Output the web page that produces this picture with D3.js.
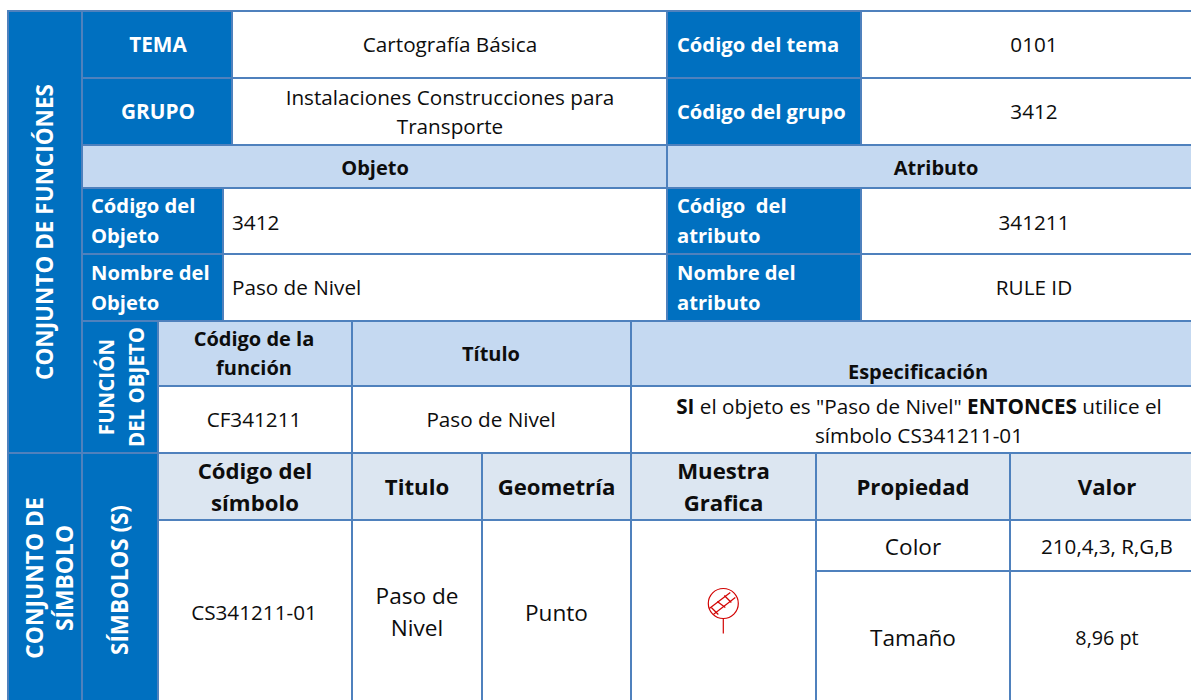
<!DOCTYPE html>
<html><head><meta charset="utf-8">
<script src="https://cdn.jsdelivr.net/npm/d3@7"></script>
<style>html,body{margin:0;padding:0;background:#fff}svg{display:block}text{font-family:"Open Sans","Noto Sans",sans-serif}</style>
</head><body><svg id="c" width="1191" height="700"></svg>
<script>
// ---- content ----
const headerLabels = ["TEMA","GRUPO","Código del tema","Código del grupo"];
const headerValues = ["Cartografía Básica",["Instalaciones Construcciones para","Transporte"],"0101","3412"];
const sectionLabels = ["Objeto","Atributo"];
const objectLabels = [["Código del","Objeto"],["Nombre del","Objeto"],["Código  del","atributo"],["Nombre del","atributo"]];
const objectValues = ["3412","Paso de Nivel","341211","RULE ID"];
const functionHeads = [["Código de la","función"],"Título","Especificación"];
const functionValues = ["CF341211","Paso de Nivel"];
const symbolHeads = [["Código del","símbolo"],"Titulo","Geometría",["Muestra","Grafica"],"Propiedad","Valor"];
const symbolValues = ["CS341211-01",["Paso de","Nivel"],"Punto","Color","210,4,3, R,G,B","Tamaño","8,96 pt"];
const sideLabels = [["CONJUNTO DE FUNCIÓNES"],["FUNCIÓN","DEL OBJETO"],["CONJUNTO DE","SÍMBOLO"],["SÍMBOLOS (S)"]];

// ---- layout scales ----
const xKeys = ["L","A","F","O","T","C","G","S","K","P","V","R","E"];
const xEdge = [8,82,158,223,232,352,482,631,667,816,861,1010,1193];
const yKeys = ["t","r1","r2","r3","r4","r5","r6","r7","r8","r9","b"];
const yEdge = [11,78,145,188,254,321,386,453,520,571,702];
const X = d3.scaleOrdinal(xKeys,xEdge);
const Y = d3.scaleOrdinal(yKeys,yEdge);
const BLUE="#0070c0",LIGHT="#c5d9f1",PALE="#dce6f1",LINE="#4f81bd",INK="#0d0d0d";
const svg=d3.select("#c");
const cells=[];
function cell(x0,x1,y0,y1,fill,txt,o={}){cells.push({x0,x1,y0,y1,fill,txt,...o});}
const W={color:"#fff",bold:true,size:20.2};
const B={size:20.7};
const H={bold:true,size:22.2,lh:32,dy:1};
const S={size:22.6};
// side
cell("L","A","t","r7",BLUE,sideLabels[0],{...W,rot:true,size:22.5,cx:45,cy:232});
cell("L","A","r7","b",BLUE,sideLabels[2],{...W,rot:true,size:22.8,cx:50,cy:578,lh:30});
cell("A","F","r5","r7",BLUE,sideLabels[1],{...W,rot:true,size:20.5,cx:122,cy:387,lh:30});
cell("A","F","r7","b",BLUE,sideLabels[3],{...W,rot:true,size:22.4,cx:120,cy:580});
// header rows
cell("A","T","t","r1",BLUE,headerLabels[0],{...W,size:20.8,cx:158});
cell("A","T","r1","r2",BLUE,headerLabels[1],{...W,size:20.8,cx:158});
cell("T","K","t","r1","#fff",headerValues[0],{...B,cx:450});
cell("T","K","r1","r2","#fff",headerValues[1],{...B,lh:29,cx:450,dy:0.5});
cell("K","V","t","r1",BLUE,headerLabels[2],{...W,align:"start",pad:10});
cell("K","V","r1","r2",BLUE,headerLabels[3],{...W,align:"start",pad:10});
cell("V","E","t","r1","#fff",headerValues[2],{...B,cx:1034});
cell("V","E","r1","r2","#fff",headerValues[3],{...B,cx:1034});
cell("A","K","r2","r3",LIGHT,sectionLabels[0],{bold:true,size:20,cx:375,dy:1});
cell("K","E","r2","r3",LIGHT,sectionLabels[1],{bold:true,size:20,cx:936,dy:1});
// object rows
cell("A","O","r3","r4",BLUE,objectLabels[0],{...W,align:"start",pad:9,lh:30});
cell("A","O","r4","r5",BLUE,objectLabels[1],{...W,align:"start",pad:9,lh:30});
cell("O","K","r3","r4","#fff",objectValues[0],{...B,align:"start",pad:9,dy:2});
cell("O","K","r4","r5","#fff",objectValues[1],{...B,align:"start",pad:9});
cell("K","V","r3","r4",BLUE,objectLabels[2],{...W,align:"start",pad:10,lh:30});
cell("K","V","r4","r5",BLUE,objectLabels[3],{...W,align:"start",pad:10,lh:30});
cell("V","E","r3","r4","#fff",objectValues[2],{...B,cx:1034,dy:2});
cell("V","E","r4","r5","#fff",objectValues[3],{...B,cx:1034});
// function rows
cell("F","C","r5","r6",LIGHT,functionHeads[0],{bold:true,size:20,lh:29,cx:254});
cell("C","S","r5","r6",LIGHT,functionHeads[1],{bold:true,size:20,cx:491});
cell("S","E","r5","r6",LIGHT,functionHeads[2],{bold:true,size:20,dy:18,cx:918});
cell("F","C","r6","r7","#fff",functionValues[0],{...B,cx:254});
cell("C","S","r6","r7","#fff",functionValues[1],{...B,cx:491});
cell("S","E","r6","r7","#fff",null);
// symbol rows
["F","C","G","S","P","R"].forEach((k,i)=>{
  const n=["C","G","S","P","R","E"];
  cell(k,n[i],"r7","r8",PALE,symbolHeads[i],{...H,cx:i==5?1107:undefined});
});
cell("F","C","r8","b","#fff",symbolValues[0],{...B,cx:254,dy:2});
cell("C","G","r8","b","#fff",symbolValues[1],{...S,lh:32,dy:1});
cell("G","S","r8","b","#fff",symbolValues[2],{...S,dy:2});
cell("S","P","r8","b","#fff",null);
cell("P","R","r8","r9","#fff",symbolValues[3],{...S,dy:1});
cell("R","E","r8","r9","#fff",symbolValues[4],{size:20.6,cx:1107,dy:1});
cell("P","R","r9","b","#fff",symbolValues[5],{...S,dy:1});
cell("R","E","r9","b","#fff",symbolValues[6],{size:19.8,cx:1107,dy:1});

const g=svg.selectAll("g.cell").data(cells).join("g").attr("class","cell");
g.append("rect").attr("x",d=>X(d.x0)).attr("y",d=>Y(d.y0))
 .attr("width",d=>X(d.x1)-X(d.x0)).attr("height",d=>Y(d.y1)-Y(d.y0))
 .attr("fill",d=>d.fill).attr("stroke",LINE).attr("stroke-width",2);
function writeLines(sel,lines,cx,cy,d){
  const size=d.size||17, lh=d.lh||size*1.4;
  const t=Array.isArray(lines)?lines:[lines];
  t.forEach((s,i)=>{
    const off=(i-(t.length-1)/2)*lh+size*0.36+(d.dy||0);
    const e=sel.append("text").attr("font-size",size).attr("font-weight",d.bold?700:400)
      .attr("fill",d.color||INK).attr("xml:space","preserve").text(s);
    if(d.rot){
      e.attr("text-anchor","middle").attr("transform",`translate(${cx+off},${cy}) rotate(-90)`);
    }else{
      const a=d.align||"middle";
      const x=a==="start"?X(d.x0)+d.pad:cx;
      e.attr("text-anchor",a).attr("x",x).attr("y",cy+off);
    }
  });
}
g.filter(d=>d.txt).each(function(d){
  const cx=d.cx!==undefined?d.cx:(X(d.x0)+X(d.x1))/2;
  const cy=d.cy!==undefined?d.cy:(Y(d.y0)+Y(d.y1))/2;
  writeLines(d3.select(this),d.txt,cx,cy,d);
});
// specification sentence with mixed weights
const specRuns=[["SI",true],[" el objeto es \"Paso de Nivel\" ",false],["ENTONCES",true],[" utilice el",false]];
const specLine2="símbolo CS341211-01";
const spec=svg.append("text").attr("x",919).attr("y",414).attr("text-anchor","middle").attr("font-size",20.7).attr("fill",INK).attr("xml:space","preserve");
spec.selectAll("tspan").data(specRuns).join("tspan").attr("font-weight",d=>d[1]?700:400).text(d=>d[0]);
svg.append("text").attr("x",919).attr("y",443).attr("text-anchor","middle").attr("font-size",20.7).attr("fill",INK).text(specLine2);
// sample symbol
const RED="#d20403";
const sym=svg.append("g").attr("transform","translate(723.3,603.5)").attr("fill","none").attr("stroke",RED).attr("stroke-width",1.2);
sym.append("circle").attr("r",15);
sym.append("line").attr("y1",15).attr("y2",30);
[[-14,5,7,-11],[-10,11,12,-6],[-12,4,-5,11],[-6,-2,2,4],[1,-8,8,-1]].forEach(p=>{
  sym.append("line").attr("x1",p[0]).attr("y1",p[1]).attr("x2",p[2]).attr("y2",p[3]);
});
</script></body></html>
